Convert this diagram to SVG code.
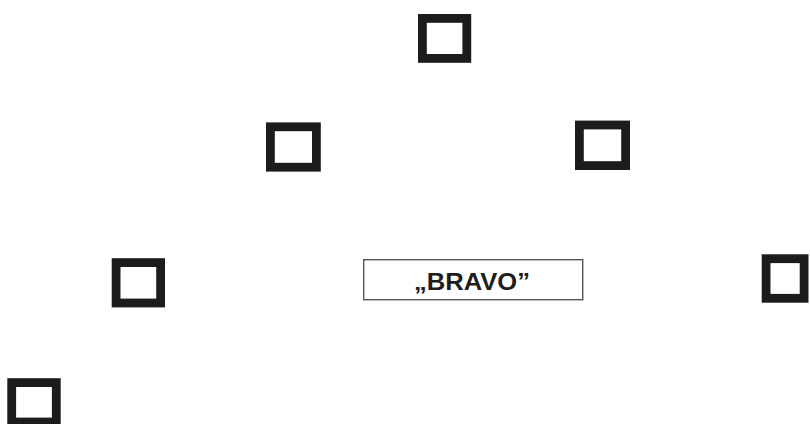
<svg xmlns="http://www.w3.org/2000/svg" width="810" height="424" viewBox="0 0 810 424">
<style>
.sq{fill:#fff;stroke:#1c1c1c;stroke-width:8.8}
.box{fill:#fff;stroke:#555;stroke-width:1.4}
.lbl{font-family:"Liberation Sans",Arial,sans-serif;font-weight:bold;font-size:24px;fill:#1e1e1e;text-anchor:middle}
</style>
<rect width="810" height="424" fill="#fff"/>
<g id="sq1"><rect class="sq" x="422.4" y="18.4" width="44.4" height="40"/></g>
<g id="sq2"><rect class="sq" x="270.4" y="126.8" width="46" height="40.4"/></g>
<g id="sq3"><rect class="sq" x="579.4" y="125" width="46.2" height="40.6"/></g>
<g id="sq4"><rect class="sq" x="116.1" y="262.6" width="44.5" height="40.4"/></g>
<g id="sq5"><rect class="sq" x="766.1" y="258.7" width="38" height="39.6"/></g>
<g id="sq6"><rect class="sq" x="11.7" y="382.6" width="44.6" height="39.4"/></g>
<g id="bravo">
<rect class="box" x="363.7" y="259.7" width="219" height="40"/>
<text class="lbl" x="472" y="290" textLength="116" lengthAdjust="spacingAndGlyphs">„BRAVO”</text>
</g>
<g id="connectors"></g>
</svg>
